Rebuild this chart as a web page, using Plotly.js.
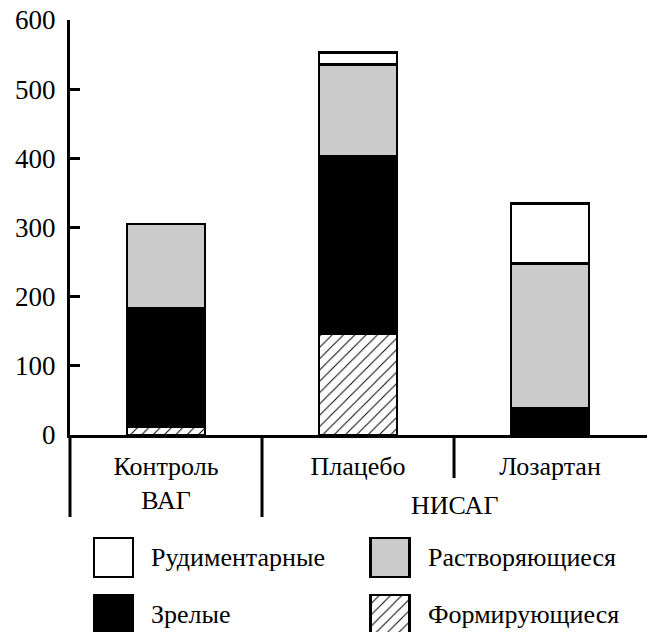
<!DOCTYPE html>
<html>
<head>
<meta charset="utf-8">
<script src="https://cdn.plot.ly/plotly-3.0.1.min.js"></script>
</head>
<body style="margin:0;background:#fff">
<div id="chart" style="width:647px;height:632px;"></div>
<script>
// ---- data ----
const categories = ["Контроль<br>ВАГ", "Плацебо", "Лозартан"];
const groupLabel = "НИСАГ";
const forming    = [12, 147, 0];     // Формирующиеся
const mature     = [171, 256, 38];   // Зрелые
const dissolving = [122, 133, 210];  // Растворяющиеся
const rudiment   = [0, 17, 87];      // Рудиментарные
const seriesNames = ["Формирующиеся", "Зрелые", "Растворяющиеся", "Рудиментарные"];
const yTicks = [0, 100, 200, 300, 400, 500, 600];

(function () {
  const FONT = "Times New Roman";
  const LW = 2.5;
  const styles = [
    {color: "#ffffff", pattern: {shape: "/", fgcolor: "#000", bgcolor: "#fff", size: 8, solidity: 0.12}},
    {color: "#000000"},
    {color: "#cbcbcb"},
    {color: "#ffffff"}
  ];
  const seriesValues = [forming, mature, dissolving, rudiment];

  const traces = seriesValues.map((vals, i) => {
    const m = {color: styles[i].color, line: {color: "#000", width: LW}};
    if (styles[i].pattern) m.pattern = styles[i].pattern;
    return {type: "bar", x: categories, y: vals, name: seriesNames[i], marker: m,
            width: 0.406, hoverinfo: "skip", showlegend: false};
  });

  // custom legend with large swatches on a hidden helper axis
  const legendOrder = [3, 2, 1, 0];
  const legCol = [43.5, 320];
  const legRowTop = [18, 75];
  const SW = 39;
  const annotations = [];
  legendOrder.forEach((si, k) => {
    const col = k % 2, row = Math.floor(k / 2);
    const m = {color: styles[si].color, line: {color: "#000", width: LW}};
    if (styles[si].pattern) m.pattern = styles[si].pattern;
    traces.push({type: "bar", x: [legCol[col]], y: [SW], base: [legRowTop[row]], width: SW,
                 xaxis: "x2", yaxis: "y2", marker: m, hoverinfo: "skip", showlegend: false});
    annotations.push({xref: "x2", yref: "y2", x: legCol[col] + SW / 2 + 16, y: legRowTop[row] + SW / 2,
                      text: seriesNames[si], showarrow: false, xanchor: "left", yanchor: "middle",
                      font: {family: FONT, size: 26, color: "#000"}});
  });

  const figH = 632, topM = 20;
  const pp = p => (figH - p) / (figH - topM);
  annotations.push({xref: "x", yref: "paper", x: 1.5, y: pp(505), text: groupLabel, showarrow: false,
                    xanchor: "center", yanchor: "middle", font: {family: FONT, size: 26, color: "#000"}});

  const shapes = [
    {type: "line", xref: "paper", yref: "paper", x0: 0, x1: 0, y0: pp(435), y1: pp(517), line: {color: "#000", width: 3}},
    {type: "line", xref: "x", yref: "paper", x0: 0.5, x1: 0.5, y0: pp(435), y1: pp(517), line: {color: "#000", width: 3}},
    {type: "line", xref: "x", yref: "paper", x0: 1.5, x1: 1.5, y0: pp(435), y1: pp(478), line: {color: "#000", width: 3}}
  ];

  const layout = {
    width: 647, height: 632,
    margin: {l: 70, r: 0, t: topM, b: 0, pad: 0},
    paper_bgcolor: "#fff", plot_bgcolor: "#fff",
    barmode: "stack",
    font: {family: FONT, color: "#000"},
    xaxis: {type: "category", range: [-0.5, 2.505], domain: [0, 1], showline: true, linewidth: 3, linecolor: "#000",
            ticks: "", showgrid: false, zeroline: false, tickfont: {family: FONT, size: 26, color: "#000"},
            ticklabelstandoff: 6, fixedrange: true},
    yaxis: {range: [0, 600], domain: [pp(435), 1], showline: true, linewidth: 3, linecolor: "#000",
            ticks: "inside", ticklen: 10, tickwidth: 3, tickcolor: "#000", tickvals: yTicks,
            showgrid: false, zeroline: false, tickfont: {family: FONT, size: 27, color: "#000"},
            ticklabelstandoff: 6, fixedrange: true},
    xaxis2: {range: [0, 577], domain: [0, 1], anchor: "y2", visible: false, fixedrange: true},
    yaxis2: {range: [112, 0], domain: [0, pp(520)], anchor: "x2", visible: false, fixedrange: true},
    shapes: shapes,
    annotations: annotations
  };

  Plotly.newPlot("chart", traces, layout, {displayModeBar: false});
})();
</script>
</body>
</html>
